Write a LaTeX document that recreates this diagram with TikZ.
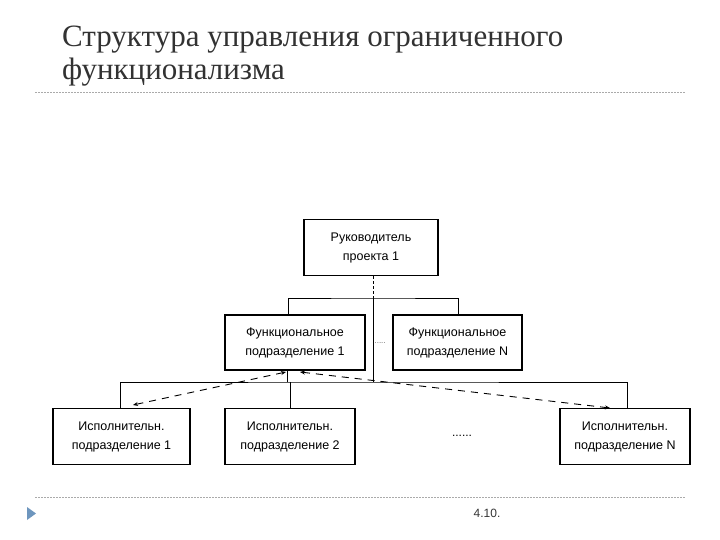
\documentclass[tikz,border=0pt]{standalone}
\usepackage{fontspec}
\setmainfont{Liberation Serif}
\newfontfamily\diagfont{Liberation Sans}
\usetikzlibrary{arrows.meta}
\definecolor{titlegray}{RGB}{50,50,50}
\definecolor{sepgray}{RGB}{170,170,170}
\definecolor{bullet}{RGB}{110,150,190}
\tikzset{
  unitbox/.style={draw, line width=1.6pt, minimum height=56pt, align=center, inner sep=2pt,
    font=\diagfont\fontsize{12.5}{19}\selectfont},
  conn/.style={line width=0.8pt},
  dashconn/.style={line width=0.9pt, dash pattern=on 7pt off 6pt, {Stealth[length=5pt,width=4pt]}-{Stealth[length=5pt,width=4pt]}},
  sep/.style={sepgray, line width=0.6pt, dash pattern=on 2pt off 1pt},
}
\begin{document}
\begin{tikzpicture}[x=1pt,y=-1pt]
\useasboundingbox (0,0) rectangle (720,540);
% title
\node[anchor=west, text=titlegray, font=\fontsize{31}{33}\selectfont, align=left, inner sep=0pt] (title) at (62,56)
  {Структура управления ограниченного\\функционализма};
\draw[sep] (35,92) -- (685,92);
\draw[sep] (35,497) -- (685,497);
\fill[bullet] (27,507) -- (36,513.5) -- (27,520) -- cycle;
\node[font=\diagfont\fontsize{12}{14}\selectfont, text=black!80] (num) at (487,513) {4.10.};
% boxes
\node[unitbox, minimum width=134pt] (top) at (371,247.5) {Руководитель\\проекта 1};
\node[unitbox, minimum width=140pt, minimum height=55pt] (f1) at (295,342.5) {Функциональное\\подразделение 1};
\node[unitbox, minimum width=129pt, minimum height=55pt] (fN) at (457.5,342.5) {Функциональное\\подразделение N};
\node[unitbox, minimum width=137pt] (e1) at (121.5,436.5) {Исполнительн.\\подразделение 1};
\node[unitbox, minimum width=130pt] (e2) at (290,436.5) {Исполнительн.\\подразделение 2};
\node[unitbox, minimum width=130pt] (eN) at (625,436.5) {Исполнительн.\\подразделение N};
\node[font=\diagfont\fontsize{12}{14}\selectfont] (dots1) at (462,436) {......};
\node[font=\diagfont\fontsize{8}{10}\selectfont, text=black!60] (dots2) at (379,343) {......};
% upper bus
\coordinate (ub) at (373,298);
\coordinate (lb) at (373,382);
\draw[conn, dash pattern=on 3pt off 2pt] (top.south -| ub) -- (ub);
\draw[conn] (ub) -- (lb);
\draw[conn] (f1.north -| 288,0) |- (ub) -| (fN.north -| 458,0);
% lower bus
\draw[conn] (e1.north -| 120,0) |- (lb) -| (eN.north -| 627,0);
\draw[conn] (f1.south -| 287,0) -- (287,382);
\draw[conn] (e2.north) -- (e2.north |- lb);
% dashed links
\coordinate (d0) at (286,372);
\coordinate (d1) at (133,405);
\coordinate (d2) at (300,372);
\coordinate (d3) at (610,408);
\draw[dashconn] (d0) -- (d1);
\draw[dashconn] (d2) -- (d3);
\end{tikzpicture}
\end{document}
